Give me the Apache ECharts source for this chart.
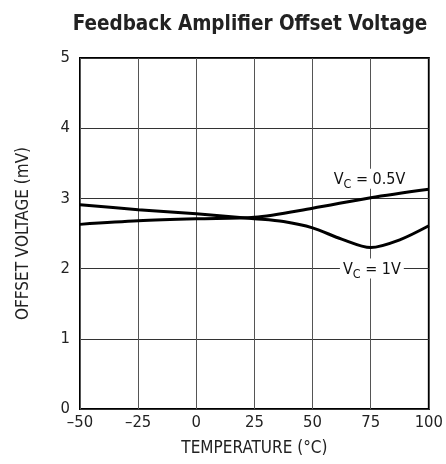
<!DOCTYPE html>
<html>
<head>
<meta charset="utf-8">
<script src="https://cdn.jsdelivr.net/npm/echarts@6/dist/echarts.min.js"></script>
<style>
  html, body { margin: 0; padding: 0; background: #fff; }
  #chart { width: 446px; height: 464px; }
</style>
</head>
<body>
<div id="chart"></div>
<script>
const font = "'Liberation Sans Narrow', 'DejaVu Sans Condensed', 'Roboto', sans-serif";

// temperature (°C) and offset voltage (mV)
const tempHalfVolt = [-50, -25, 0, 25, 50, 75, 100];
const offsetHalfVolt = [2.63, 2.68, 2.71, 2.73, 2.86, 3.01, 3.13];

const tempOneVolt = [-50, -25, 0, 25, 37.5, 50, 62.5, 75, 87.5, 100];
const offsetOneVolt = [2.91, 2.84, 2.78, 2.71, 2.67, 2.58, 2.42, 2.30, 2.41, 2.61];

const xTicks = { min: -50, max: 100, interval: 25 };
const yTicks = { min: 0, max: 5, interval: 1 };

function pairs(xs, ys) {
  return xs.map((x, i) => [x, ys[i]]);
}

function curveLabel(text, coord) {
  return {
    symbol: "circle",
    symbolSize: 1,
    silent: true,
    itemStyle: { color: "rgba(0,0,0,0)" },
    data: [{ coord: coord }],
    label: {
      show: true,
      position: "inside",
      backgroundColor: "#fff",
      padding: [1, 3, 1, 3],
      formatter: "{v|V}{s|C}{v| = " + text + "}",
      rich: {
        v: { fontFamily: font, fontSize: 16, color: "#111", lineHeight: 18, verticalAlign: "bottom" },
        s: { fontFamily: font, fontSize: 12.5, color: "#111", lineHeight: 13, verticalAlign: "bottom", padding: [0, 0, -4, 0] }
      }
    }
  };
}

const chart = echarts.init(document.getElementById("chart"), null, { renderer: "canvas" });

chart.setOption({
  animation: false,
  title: {
    text: "Feedback Amplifier Offset Voltage",
    left: 245,
    textAlign: "center",
    top: 9,
    textStyle: { fontFamily: font, fontSize: 20.5, fontWeight: "bold", color: "#222" }
  },
  grid: {
    left: 80, right: 15, top: 58, bottom: 55,
    show: true, borderColor: "#000", borderWidth: 2
  },
  xAxis: {
    type: "value",
    min: xTicks.min, max: xTicks.max, interval: xTicks.interval,
    name: "TEMPERATURE (°C)",
    nameLocation: "middle",
    nameGap: 31,
    nameTextStyle: { fontFamily: font, fontSize: 17, color: "#222" },
    axisLine: { show: false },
    axisTick: { show: false },
    axisLabel: {
      margin: 5,
      fontFamily: font, fontSize: 16.5, color: "#222",
      formatter: v => String(v).replace("-", "\u2013")
    },
    splitLine: { show: true, lineStyle: { color: "#555", width: 1 } }
  },
  yAxis: {
    type: "value",
    min: yTicks.min, max: yTicks.max, interval: yTicks.interval,
    name: "OFFSET VOLTAGE (mV)",
    nameLocation: "middle",
    nameGap: 48,
    nameTextStyle: { fontFamily: font, fontSize: 17, color: "#222" },
    axisLine: { show: false },
    axisTick: { show: false },
    axisLabel: { margin: 10, fontFamily: font, fontSize: 16.5, color: "#222" },
    splitLine: { show: true, lineStyle: { color: "#333", width: 1 } }
  },
  series: [
    {
      name: "VC = 0.5V",
      type: "line",
      data: pairs(tempHalfVolt, offsetHalfVolt),
      smooth: 0.3,
      showSymbol: false,
      lineStyle: { color: "#000", width: 3 },
      markPoint: curveLabel("0.5V", [74.5, 3.28])
    },
    {
      name: "VC = 1V",
      type: "line",
      data: pairs(tempOneVolt, offsetOneVolt),
      smooth: 0.3,
      showSymbol: false,
      lineStyle: { color: "#000", width: 3 },
      markPoint: curveLabel("1V", [75.5, 2.0])
    }
  ]
});
</script>
</body>
</html>
